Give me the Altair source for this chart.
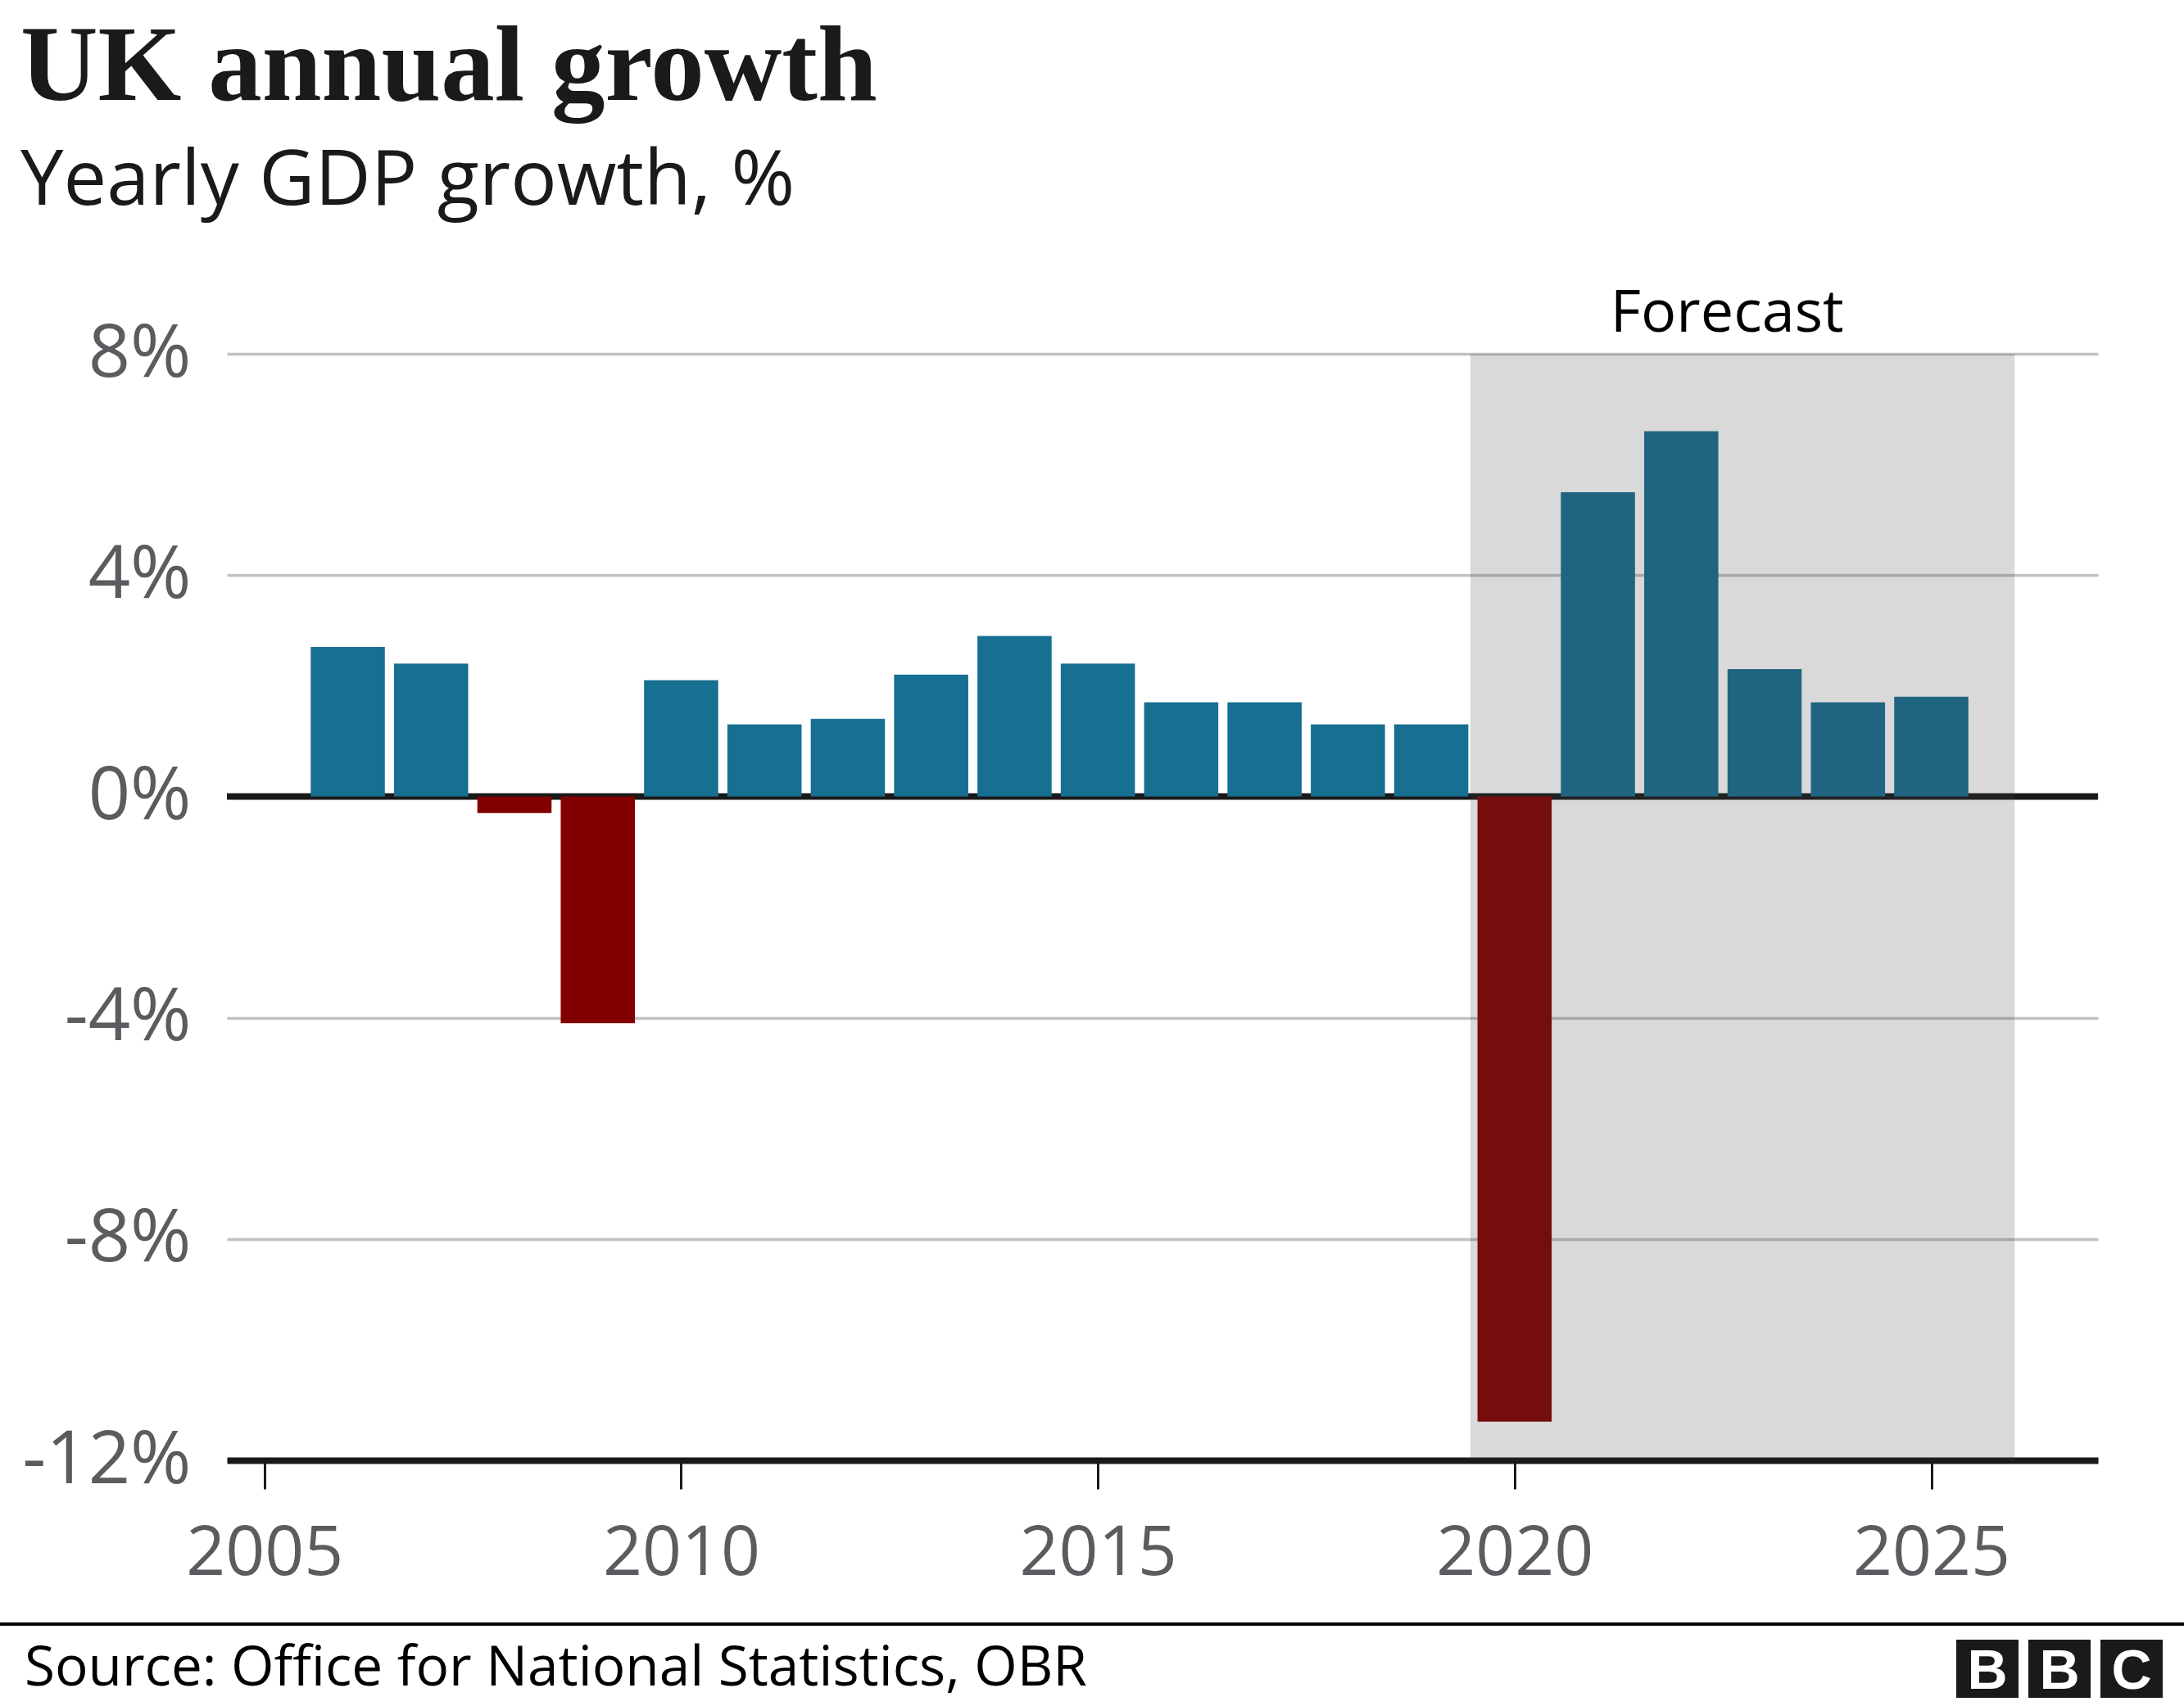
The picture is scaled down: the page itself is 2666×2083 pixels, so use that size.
import altair as alt
import pandas as pd

# ---------------- data ----------------
years = list(range(2006, 2026))
growth = [2.7, 2.4, -0.3, -4.1, 2.1, 1.3, 1.4, 2.2, 2.9, 2.4,
          1.7, 1.7, 1.3, 1.3, -11.3, 5.5, 6.6, 2.3, 1.7, 1.8]

y_ticks = [-12, -8, -4, 0, 4, 8]
x_ticks = [2005, 2010, 2015, 2020, 2025]

forecast_start = 2019.47
forecast_end = 2026.0
forecast_label = "Forecast"
forecast_label_year = 2022.55

title_text = "UK annual growth"
subtitle_text = "Yearly GDP growth, %"
source_text = "Source: Office for National Statistics, OBR"
logo_letters = ["B", "B", "C"]

# ---------------- styles ----------------
BLUE = "#176f91"
RED = "#830000"
GRID = "#c1c1c1"
INK = "#1a1a1a"
LABEL = "#5c5c60"
SANS = "Open Sans"
SERIF = "Liberation Serif"
HALF_BAR = 0.445

W, H = 2284, 1351
PAD = {"left": 277, "top": 432, "right": 105, "bottom": 300}

x_scale = alt.Scale(domain=[2004.55, 2027.0], nice=False, zero=False)
y_scale = alt.Scale(domain=[min(y_ticks), max(y_ticks)], nice=False, zero=False)

df = pd.DataFrame({"year": years, "growth": growth})

bars = alt.Chart(df).transform_calculate(
    x0=f"datum.year - {HALF_BAR}", x1=f"datum.year + {HALF_BAR}"
).mark_bar().encode(
    x=alt.X("x0:Q", scale=x_scale, title=None,
            axis=alt.Axis(values=x_ticks, format="d", grid=False,
                          domain=True, domainColor=INK, domainWidth=8,
                          ticks=True, tickColor=INK, tickWidth=3, tickSize=35,
                          labelPadding=38, labelFontSize=84, labelFont=SANS,
                          labelColor=LABEL, labelFlush=False, labelLimit=0)),
    x2="x1:Q",
    y=alt.Y("growth:Q", scale=y_scale, title=None,
            axis=alt.Axis(values=y_ticks, labelExpr="datum.value + '%'",
                          grid=True, gridColor=GRID, gridWidth=3.5,
                          domain=False, ticks=False, tickSize=0,
                          labelPadding=44, labelFontSize=90, labelFont=SANS,
                          labelColor=LABEL, labelLimit=0)),
    y2=alt.datum(0),
    color=alt.condition("datum.growth < 0", alt.value(RED), alt.value(BLUE)),
)

zero_rule = alt.Chart(pd.DataFrame({"y": [0]})).mark_rule(
    color=INK, strokeWidth=8
).encode(y=alt.Y("y:Q", scale=y_scale))

band = alt.Chart(pd.DataFrame({"x0": [forecast_start], "x1": [forecast_end],
                               "top": [max(y_ticks)], "bottom": [min(y_ticks)]})
                 ).mark_rect(color="#414141", opacity=0.2).encode(
    x=alt.X("x0:Q", scale=x_scale), x2="x1:Q",
    y=alt.Y("top:Q", scale=y_scale), y2="bottom:Q",
)

forecast_txt = alt.Chart(pd.DataFrame({"x": [forecast_label_year], "y": [max(y_ticks)],
                                       "t": [forecast_label]})).mark_text(
    font=SANS, fontSize=72, color="#000000", align="center",
    baseline="alphabetic", dy=-27
).encode(x=alt.X("x:Q", scale=x_scale), y=alt.Y("y:Q", scale=y_scale), text="t:N")

# --------- header / footer decorations (pixel positions) ---------
title = alt.Chart(pd.DataFrame({"t": [title_text]})).mark_text(
    font=SERIF, fontSize=131, fontWeight="bold", color=INK,
    align="left", baseline="alphabetic"
).encode(x=alt.value(-252), y=alt.value(-310), text="t:N")

subtitle = alt.Chart(pd.DataFrame({"t": [subtitle_text]})).mark_text(
    font=SANS, fontSize=94, color=INK, align="left", baseline="alphabetic"
).encode(x=alt.value(-252), y=alt.value(-182), text="t:N")

source = alt.Chart(pd.DataFrame({"t": [source_text]})).mark_text(
    font=SANS, fontSize=67.5, color="#000000", align="left", baseline="alphabetic"
).encode(x=alt.value(-247), y=alt.value(1626), text="t:N")

footer_line = alt.Chart(pd.DataFrame({"a": [0]})).mark_rule(
    color="#000000", strokeWidth=4
).encode(x=alt.value(-277), x2=alt.value(2389), y=alt.value(1551))

box_left = [2111, 2199, 2287]
logo_layers = []
for i, letter in enumerate(logo_letters):
    bx = box_left[i]
    logo_layers.append(
        alt.Chart(pd.DataFrame({"a": [0]})).mark_rect(color=INK).encode(
            x=alt.value(bx), x2=alt.value(bx + 76),
            y=alt.value(1570), y2=alt.value(1641))
    )
    logo_layers.append(
        alt.Chart(pd.DataFrame({"t": [letter]})).mark_text(
            font="Liberation Sans", fontSize=68, fontWeight="bold",
            color="#ffffff", align="center", baseline="alphabetic"
        ).encode(x=alt.value(bx + 38), y=alt.value(1630), text="t:N")
    )

chart = alt.layer(
    zero_rule, bars, band, forecast_txt, title, subtitle, source, footer_line,
    *logo_layers
).properties(
    width=W, height=H, padding=PAD,
    autosize=alt.AutoSizeParams(type="none"),
    background="white",
).configure_view(stroke=None)

chart.save("out.html", embed_options={"renderer": "svg", "actions": False})
